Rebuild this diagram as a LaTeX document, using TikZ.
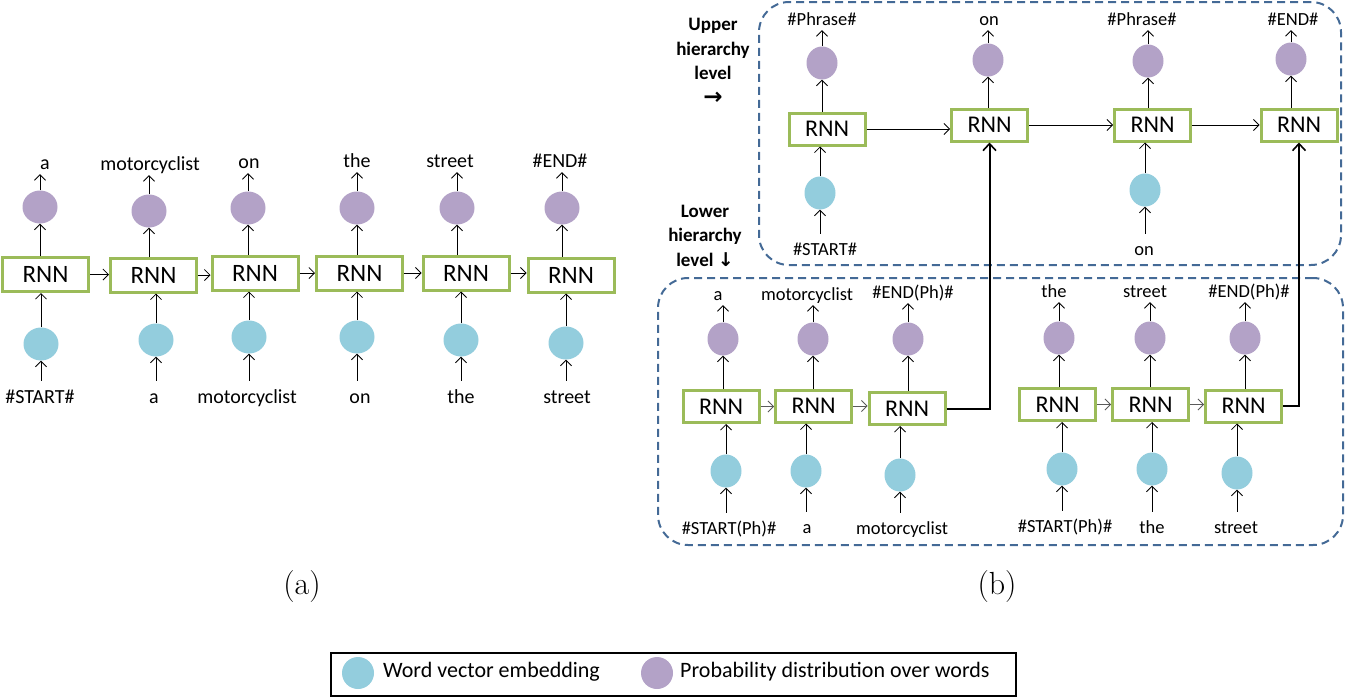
\documentclass[tikz,border=0pt]{standalone}
\usepackage{fontspec}
\newfontfamily\calib{Carlito}
\newfontfamily\djv{DejaVu Sans}
\usetikzlibrary{arrows.meta,shapes.geometric}
\definecolor{rnngreen}{RGB}{155,187,89}
\definecolor{pdpurple}{RGB}{179,162,199}
\definecolor{weblue}{RGB}{147,205,221}
\definecolor{dashblue}{RGB}{68,106,150}
\definecolor{greyarr}{RGB}{90,90,90}
\begin{document}
\begin{tikzpicture}[x=1pt,y=-1pt,
 rnnA/.style={draw=rnngreen,line width=3pt,fill=white,minimum width=86pt,minimum height=34pt,inner sep=0pt,font=\calib\fontsize{25}{30}\selectfont},
 rnnB/.style={rnnA,minimum width=76pt,minimum height=32pt,font=\calib\fontsize{24}{29}\selectfont},
 pdA/.style={ellipse,fill=pdpurple,minimum width=35pt,minimum height=33pt,inner sep=0pt},
 weA/.style={pdA,fill=weblue},
 pdB/.style={ellipse,fill=pdpurple,minimum width=31pt,minimum height=33pt,inner sep=0pt},
 weB/.style={pdB,fill=weblue},
 lblA/.style={anchor=base,font=\calib\fontsize{20}{24}\selectfont,inner sep=1pt,text height=14pt,text depth=4pt},
 lblB/.style={anchor=base,font=\calib\fontsize{18.5}{22}\selectfont,inner sep=1pt,text height=13pt,text depth=4pt},
 arr/.style={-{Straight Barb[length=5.5pt,width=11pt]},line width=0.8pt},
 inarr/.style={arr,shorten <=7pt},
 garr/.style={arr,draw=greyarr},
 tarr/.style={-{Straight Barb[length=7pt,width=13pt,line width=1.6pt]},line width=2pt,line join=miter},
 dbox/.style={draw=dashblue,line width=2pt,dash pattern=on 8pt off 5pt,rounded corners=30pt,inner sep=0pt},
 hier/.style={font=\calib\bfseries\fontsize{19}{24.5}\selectfont,align=center,inner sep=0pt},
 captxt/.style={font=\rmfamily\fontsize{32}{38}\selectfont,inner sep=0pt},
 leg/.style={anchor=west,font=\calib\fontsize{22}{26}\selectfont,inner sep=0pt},
]
\useasboundingbox (0,0) rectangle (1346,699);

% ---------------- panel (a)
\foreach \i/\rx/\ry/\px/\py/\ex/\ey/\tx/\ty/\tt/\sx/\sy/\st in {
 1/45.5/274.5/40/207/41/344/45/169/a/40/403/\#START\#,
 2/153.5/275/149/211/156/340/150/170/motorcyclist/154/403/a,
 3/255/273/248/208/249/337/249/168/on/247/403/motorcyclist,
 4/359.5/273/357/208/357/337/357/167/the/360/403/on,
 5/466/273/457/208/461/340/450/167/street/461/403/the,
 6/571/275/562/208/566/343/560/167/\#END\#/567/403/street}
{
 \node[rnnA] (ar\i) at (\rx,\ry) {RNN};
 \node[pdA] (ap\i) at (\px,\py) {};
 \node[weA] (ae\i) at (\ex,\ey) {};
 \node[lblA] (at\i) at (\tx,\ty) {\tt};
 \node[lblA] (as\i) at (\sx,\sy) {\st};
 \draw[inarr] (ae\i |- as\i.north) -- (ae\i.south);
 \draw[arr] (ae\i.north) -- (ae\i.north |- ar\i.south);
 \draw[arr] (ap\i |- ar\i.north) -- (ap\i.south);
 \draw[arr] (ap\i.north) -- (ap\i.north |- at\i.south);
}
\foreach \i/\j in {1/2,2/3,3/4,4/5,5/6}
 \draw[arr] (ar\i.east) -- (ar\i.east -| ar\j.west);

\node[captxt] (capa) at (302,587) {(a)};

% ---------------- panel (b): containers
\node[dbox,minimum width=582pt,minimum height=263pt] (upper) at (1050,133.5) {};
\node[dbox,minimum width=685pt,minimum height=267pt] (lower) at (1000.5,411.5) {};
\node[hier] (uplab) at (713,61.5) {Upper\\hierarchy\\level\\{\djv\bfseries\fontsize{23}{24.5}\selectfont →}};
\node[hier] (lolab) at (705,235.5) {Lower\\hierarchy\\level {\djv ↓}};

% upper level
\node[rnnB] (ur1) at (827,129) {RNN};
\node[rnnB] (ur2) at (989.5,125) {RNN};
\node[rnnB] (ur3) at (1152.5,125) {RNN};
\node[rnnB] (ur4) at (1299,125) {RNN};
\node[pdB] (up1) at (822,63) {};
\node[pdB] (up2) at (988,60) {};
\node[pdB] (up3) at (1148,61) {};
\node[pdB] (up4) at (1291,59) {};
\node[weB] (ue1) at (820,193) {};
\node[weB] (ue3) at (1145,190) {};
\node[lblB] (ut1) at (822,25) {\#Phrase\#};
\node[lblB] (ut2) at (989,25) {on};
\node[lblB] (ut3) at (1142,25) {\#Phrase\#};
\node[lblB] (ut4) at (1293,25) {\#END\#};
\node[lblB] (us1) at (825,255) {\#START\#};
\node[lblB] (us3) at (1144,255) {on};
\foreach \i in {1,3}{
 \draw[inarr] (ue\i |- us\i.north) -- (ue\i.south);
 \draw[arr] (ue\i.north) -- (ue\i.north |- ur\i.south);
}
\foreach \i in {1,2,3,4}{
 \draw[arr] (up\i |- ur\i.north) -- (up\i.south);
 \draw[arr] (up\i.north) -- (up\i.north |- ut\i.south);
}
\foreach \i/\j in {1/2,2/3,3/4}
 \draw[arr] (ur\i.east) -- (ur\i.east -| ur\j.west);

% lower level
\foreach \i/\rx/\ry/\px/\py/\ex/\ey/\tx/\ty/\tt/\sx/\sy/\st in {
 1/721/406.5/723/339/726/471/718/300/a/729/534/\#START(Ph)\#,
 2/813.5/406/813/339/806/471/807/300/motorcyclist/807/533/a,
 3/907/408.5/908/339/900/475/913/298/\#END(Ph)\#/902/534/motorcyclist,
 4/1057.5/404.5/1059/338/1062/469/1054/297/the/1065/532/\#START(Ph)\#,
 5/1150.5/404.5/1150/338/1152/469/1145/297/street/1152/533/the,
 6/1243.5/406/1245/338/1237/473/1249/297/\#END(Ph)\#/1236/533/street}
{
 \node[rnnB] (lr\i) at (\rx,\ry) {RNN};
 \node[pdB] (lp\i) at (\px,\py) {};
 \node[weB] (le\i) at (\ex,\ey) {};
 \node[lblB] (lt\i) at (\tx,\ty) {\tt};
 \node[lblB] (ls\i) at (\sx,\sy) {\st};
 \draw[inarr] (le\i |- ls\i.north) -- (le\i.south);
 \draw[arr] (le\i.north) -- (le\i.north |- lr\i.south);
 \draw[arr] (lp\i |- lr\i.north) -- (lp\i.south);
 \draw[arr] (lp\i.north) -- (lp\i.north |- lt\i.south);
}
\foreach \i/\j in {1/2,2/3,4/5,5/6}
 \draw[garr] (lr\i.east) -- (lr\i.east -| lr\j.west);

% links lower -> upper
\draw[tarr] (lr3.east) -| (ur2.south);
\draw[tarr] (lr6.east) -| (ur4.south);

\node[captxt] (capb) at (997,587) {(b)};

% ---------------- legend
\node[draw,line width=2pt,minimum width=685pt,minimum height=43pt,inner sep=0pt] (legend) at (673.5,674) {};
\node[ellipse,fill=weblue,minimum width=32pt,minimum height=32pt,inner sep=0pt] (legwe) at (358,673) {};
\node[leg] (legwet) at (383,672) {Word vector embedding};
\node[ellipse,fill=pdpurple,minimum width=32pt,minimum height=32pt,inner sep=0pt] (legpd) at (657,673) {};
\node[leg] (legpdt) at (680,672) {Probability distribution over words};
\end{tikzpicture}
\end{document}
